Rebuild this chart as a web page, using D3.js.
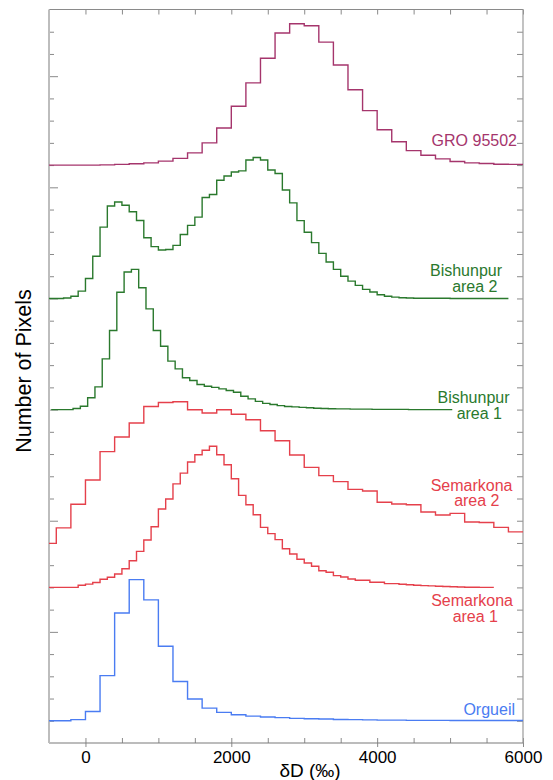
<!DOCTYPE html>
<html>
<head>
<meta charset="utf-8">
<script src="https://cdn.jsdelivr.net/npm/d3@7"></script>
<style>
body { margin: 0; background: #fff; }
svg { display: block; font-family: "Liberation Sans", Arial, sans-serif; }
</style>
</head>
<body>
<svg id="chart" width="553" height="780"></svg>
<script>
// x: dD in permil, y: stacked histograms (1 unit = one minor tick on the left axis)
var xMinorTicks = d3.range(-500, 6001, 500)
var xLabelTicks = [0, 2000, 4000, 6000]
var yTicks = d3.range(1, 33)

// histogram counts, one value per bin
var groStart = -600, groWidth = 200, groBase = 26
var groCounts = [0, 0, 0, 0, 0.01, 0.03, 0.06, 0.1, 0.18, 0.3, 0.55, 1.0, 1.67, 2.65, 3.7, 4.81, 5.94,
    6.36, 6.27, 5.53, 4.5, 3.39, 2.45, 1.59, 1.05, 0.65, 0.44, 0.28, 0.16, 0.1, 0.07, 0.04, 0.03]

var bish2Start = -500, bish2Width = 100, bish2Base = 20
var bish2Counts = [0, 0, 0.02, 0.1, 0.33, 0.9, 1.9, 3.21, 4.16, 4.34, 4.19, 3.9, 3.51, 2.73, 2.33, 2.18,
    2.2, 2.39, 2.88, 3.29, 3.66, 4.54, 4.68, 5.32, 5.51, 5.69, 5.74, 6.23, 6.34, 6.23, 5.78, 5.62,
    4.88, 4.3, 3.5, 2.98, 2.51, 2.03, 1.64, 1.31, 1.0, 0.78, 0.59, 0.41, 0.29, 0.17, 0.1, 0.06,
    0.03, 0.02, 0.01, 0.01, 0.01, 0.01, 0.01, 0, 0, 0, 0, 0, 0, 0, 0]

var bish1Start = -470, bish1Width = 100, bish1Base = 15
var bish1Counts = [0, 0, 0, 0.05, 0.15, 0.53, 1.02, 2.28, 3.56, 5.28, 6.19, 6.31, 5.48, 4.53, 3.56,
    2.85, 2.18, 1.83, 1.43, 1.31, 1.13, 1.05, 1.0, 0.93, 0.86, 0.78, 0.6, 0.48, 0.37, 0.28, 0.23,
    0.18, 0.14, 0.12, 0.1, 0.08, 0.06, 0.05, 0.04, 0.03, 0.03, 0.02, 0.02, 0.02, 0.01, 0.01, 0.01,
    0.01, 0.01, 0, 0, 0, 0, 0, 0]

var sem2Start = -600, sem2Width = 200, sem2Base = 8.5
var sem2Counts = [0.48, 1.18, 2.24, 3.33, 4.61, 5.27, 5.9, 6.64, 6.82, 6.85, 6.49, 6.35, 6.49, 6.29,
    6.04, 5.55, 5.1, 4.46, 3.9, 3.53, 3.26, 2.91, 2.84, 2.33, 2.25, 2.22, 1.89, 1.76, 1.83, 1.44,
    1.42, 1.2, 1.0]

var sem1Start = -500, sem1Width = 100, sem1Base = 7
var sem1Counts = [0, 0, 0, 0, 0.1, 0.15, 0.22, 0.37, 0.46, 0.6, 0.84, 1.2, 1.62, 2.13, 2.73, 3.53,
    3.98, 4.66, 5.14, 5.64, 5.97, 6.17, 6.35, 5.97, 5.52, 4.89, 4.14, 3.72, 3.27, 2.7, 2.42, 2.15,
    1.74, 1.5, 1.27, 1.1, 0.95, 0.75, 0.68, 0.53, 0.47, 0.38, 0.32, 0.32, 0.23, 0.23, 0.17, 0.17,
    0.14, 0.12, 0.1, 0.08, 0.07, 0.05, 0.04, 0.03, 0.02, 0.01, 0.01, 0, 0]

var orgStart = -600, orgWidth = 200, orgBase = 1
var orgCounts = [0, 0, 0.05, 0.42, 2.03, 4.85, 6.35, 5.44, 3.35, 1.77, 0.98, 0.57, 0.38, 0.27, 0.21,
    0.17, 0.14, 0.11, 0.09, 0.08, 0.06, 0.05, 0.04, 0.03, 0.03, 0.02, 0.02, 0.02, 0.01, 0.01, 0.01,
    0.01, 0.01]

var series = [
    {name: ["GRO 95502"], start: groStart, width: groWidth, base: groBase, counts: groCounts, color: "#a5356c"},
    {name: ["Bishunpur", "area 2"], start: bish2Start, width: bish2Width, base: bish2Base, counts: bish2Counts, color: "#2a792d"},
    {name: ["Bishunpur", "area 1"], start: bish1Start, width: bish1Width, base: bish1Base, counts: bish1Counts, color: "#2a792d"},
    {name: ["Semarkona", "area 2"], start: sem2Start, width: sem2Width, base: sem2Base, counts: sem2Counts, color: "#e5404b"},
    {name: ["Semarkona", "area 1"], start: sem1Start, width: sem1Width, base: sem1Base, counts: sem1Counts, color: "#e5404b"},
    {name: ["Orgueil"], start: orgStart, width: orgWidth, base: orgBase, counts: orgCounts, color: "#4a7cf2"}
]

// label anchors in pixels: right end of line 1, baseline of line 1, right end of line 2
var labelPos = [[517, 145.5, 0], [502, 276, 497.5], [509.5, 403, 502], [512.5, 490.5, 499.5], [513, 606, 498], [515, 715, 0]]

var dimensions = {
    width: 553,
    height: 780,
    margin: {top: 9.5, right: 30, bottom: 37, left: 49}
}
dimensions.boundedWidth = dimensions.width - dimensions.margin.left - dimensions.margin.right
dimensions.boundedHeight = dimensions.height - dimensions.margin.top - dimensions.margin.bottom

var svg = d3.select("#chart")

var xScale = d3.scaleLinear()
    .domain([-500, 6000])
    .range([dimensions.margin.left, dimensions.margin.left + dimensions.boundedWidth])

var yScale = d3.scaleLinear()
    .domain([0, 33])
    .range([dimensions.margin.top + dimensions.boundedHeight, dimensions.margin.top])

var x0 = xScale.range()[0], x1 = xScale.range()[1]
var yTop = yScale.range()[1], yBot = yScale.range()[0]

svg.append("clipPath")
    .attr("id", "plotClip")
    .append("rect")
    .attr("x", x0).attr("y", yTop)
    .attr("width", x1 - x0).attr("height", yBot - yTop)

//axes, ticks pointing into the plot
svg.append("g")
    .attr("transform", "translate(0," + yBot + ")")
    .call(d3.axisBottom(xScale).tickValues(xMinorTicks).tickSize(-5).tickFormat(""))
    .call(g => g.select(".domain").remove())

svg.append("g")
    .attr("transform", "translate(0," + yBot + ")")
    .call(d3.axisBottom(xScale).tickValues(xLabelTicks).tickSize(4).tickPadding(4).tickFormat(d3.format("d")))
    .call(g => g.select(".domain").remove())
    .call(g => g.selectAll("text").attr("font-size", 17).attr("fill", "#000").attr("font-family", "Liberation Sans, Arial, sans-serif"))

svg.append("g")
    .attr("transform", "translate(0," + yTop + ")")
    .call(d3.axisTop(xScale).tickValues(xMinorTicks).tickSize(-5).tickFormat(""))
    .call(g => g.select(".domain").remove())

svg.append("g")
    .attr("transform", "translate(" + x0 + ",0)")
    .call(d3.axisLeft(yScale).tickValues(yTicks).tickSize(-5).tickFormat(""))
    .call(g => g.select(".domain").remove())
    .call(g => g.selectAll(".tick line").attr("x2", d => d % 5 == 0 ? 9 : 5))

svg.append("g")
    .attr("transform", "translate(" + x1 + ",0)")
    .call(d3.axisRight(yScale).tickValues(yTicks).tickSize(-6).tickFormat(""))
    .call(g => g.select(".domain").remove())

svg.selectAll(".tick line").attr("stroke", "#8a8a8a")

//frame
svg.append("line").attr("x1", x0).attr("x2", x1).attr("y1", yTop).attr("y2", yTop).attr("stroke", "#8a8a8a").attr("stroke-width", 1.2)
svg.append("line").attr("x1", x1).attr("x2", x1).attr("y1", yTop).attr("y2", yBot).attr("stroke", "#9a9a9a").attr("stroke-width", 1.2)
svg.append("line").attr("x1", x0).attr("x2", x1).attr("y1", yBot).attr("y2", yBot).attr("stroke", "#7a7a7a").attr("stroke-width", 1.2)
svg.append("line").attr("x1", x0).attr("x2", x0).attr("y1", yTop).attr("y2", yBot).attr("stroke", "#bdbdbd").attr("stroke-width", 2)

//step histograms
var line = d3.line()
    .x(d => xScale(d[0]))
    .y(d => yScale(d[1]))
    .curve(d3.curveStepAfter)

var plot = svg.append("g").attr("clip-path", "url(#plotClip)")

series.forEach(function (s) {
    var pts = s.counts.map((c, i) => [s.start + i * s.width, s.base + c])
    pts.push([s.start + s.counts.length * s.width, s.base + s.counts[s.counts.length - 1]])
    plot.append("path")
        .attr("d", line(pts))
        .attr("fill", "none")
        .attr("stroke", s.color)
        .attr("stroke-width", 1.4)
})

//series labels, one text per line
series.forEach(function (s, i) {
    s.name.forEach(function (n, j) {
        svg.append("text")
            .attr("x", j == 0 ? labelPos[i][0] : labelPos[i][2])
            .attr("y", labelPos[i][1] + j * 15.5)
            .attr("text-anchor", "end")
            .attr("font-size", 16)
            .attr("fill", s.color)
            .text(n)
    })
})

//graph labels
svg.append("text")
    .attr("x", 310)
    .attr("y", 777)
    .attr("text-anchor", "middle")
    .attr("font-size", 19)
    .text("δD (‰)")

svg.append("text")
    .attr("transform", "translate(31," + 371 + ") rotate(-90)")
    .attr("text-anchor", "middle")
    .attr("font-size", 21.5)
    .text("Number of Pixels")
</script>
</body>
</html>
